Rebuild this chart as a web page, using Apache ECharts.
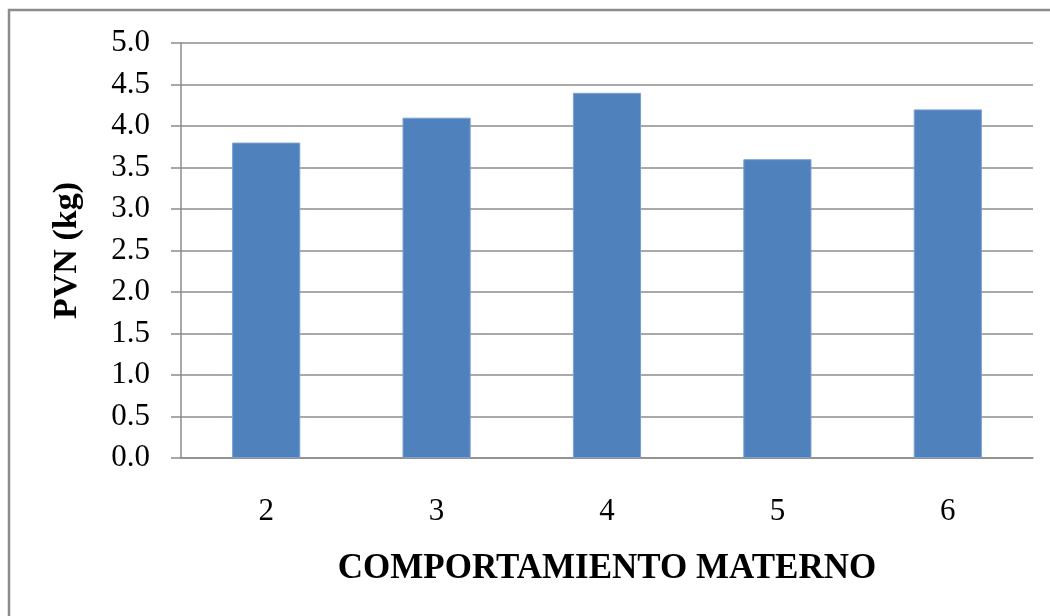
<!DOCTYPE html>
<html>
<head>
<meta charset="utf-8">
<script src="https://cdn.jsdelivr.net/npm/echarts@6/dist/echarts.min.js"></script>
<style>
  html, body { margin: 0; padding: 0; background: #fff; }
  #chart { width: 1050px; height: 616px; }
</style>
</head>
<body>
<div id="chart"></div>
<script>
  // datos del gráfico
  const categories = ['2', '3', '4', '5', '6']
  const pvnValues = [3.8, 4.1, 4.4, 3.6, 4.2]
  const xTitle = 'COMPORTAMIENTO MATERNO'
  const yTitle = 'PVN (kg)'

  const serif = '"Liberation Serif", "Times New Roman", serif'

  const chart = echarts.init(document.getElementById('chart'))

  chart.setOption({
    animation: false,
    // marco exterior
    graphic: [{
      type: 'rect',
      shape: { x: 9, y: 10, width: 1100, height: 700 },
      style: { fill: 'none', stroke: '#8c8c8c', lineWidth: 2.5 },
      silent: true
    }],
    grid: { left: 181, right: 17, top: 43, bottom: 158 },
    xAxis: {
      type: 'category',
      data: categories,
      axisLine: { lineStyle: { color: '#8c8c8c', width: 1.5 } },
      axisTick: { show: false },
      axisLabel: { color: '#000', fontFamily: serif, fontSize: 31, margin: 38 },
      name: xTitle,
      nameLocation: 'middle',
      nameGap: 93,
      nameTextStyle: { color: '#000', fontFamily: serif, fontSize: 35, fontWeight: 'bold' }
    },
    yAxis: {
      type: 'value',
      min: 0,
      max: 5,
      interval: 0.5,
      axisLine: { show: true, lineStyle: { color: '#8c8c8c', width: 1.5 } },
      axisTick: { show: true, length: 10, lineStyle: { color: '#8c8c8c', width: 1.5 } },
      splitLine: { lineStyle: { color: '#8c8c8c', width: 1.5 } },
      axisLabel: {
        color: '#000', fontFamily: serif, fontSize: 31, margin: 31,
        formatter: (v) => v.toFixed(1)
      },
      name: yTitle,
      nameLocation: 'middle',
      nameRotate: 90,
      nameGap: 97,
      nameTextStyle: { color: '#000', fontFamily: serif, fontSize: 34, fontWeight: 'bold' }
    },
    series: [{
      type: 'bar',
      data: pvnValues,
      barWidth: '40%',
      itemStyle: { color: '#4f81bd', borderColor: '#7aa0d2', borderWidth: 1 }
    }]
  })
</script>
</body>
</html>
